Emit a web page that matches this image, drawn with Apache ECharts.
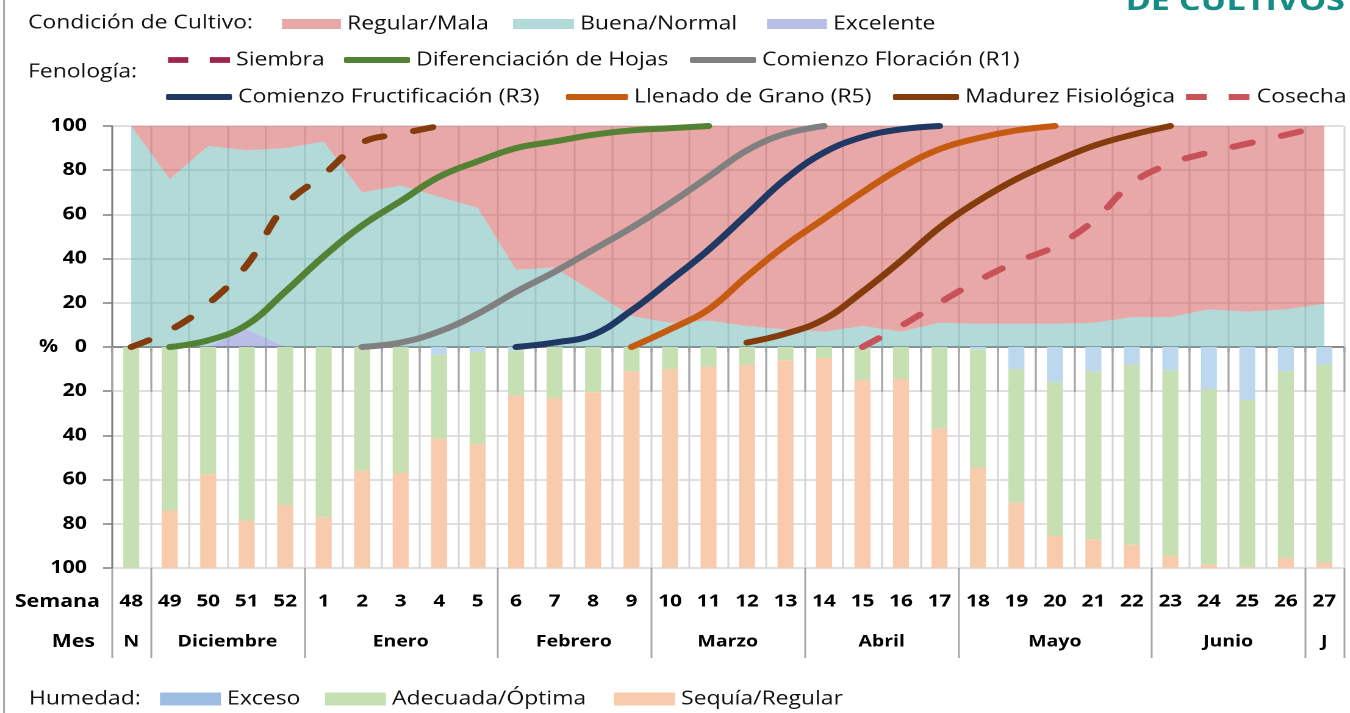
<!DOCTYPE html>
<html><head><meta charset="utf-8">
<script src="https://cdn.jsdelivr.net/npm/echarts@6/dist/echarts.min.js"></script>
<style>
html,body{margin:0;padding:0;background:#fff;overflow:hidden}
#wrap{width:1350px;height:713px;overflow:hidden;position:relative;background:#fff}
#c{position:absolute;left:0;top:0;height:713px;transform-origin:0 0}
</style></head>
<body><div id="wrap"><div id="c"></div></div>
<script>
// ---------- data ----------
const weeks = ['48','49','50','51','52','1','2','3','4','5','6','7','8','9','10','11','12','13','14','15','16','17','18','19','20','21','22','23','24','25','26','27'];
const months = ['N','Diciembre','Enero','Febrero','Marzo','Abril','Mayo','Junio','J'];
const monthSpans = [1,4,5,4,4,4,5,4,1];

// Condición de Cultivo (%)
const excelente = [0,0,0,8,0,0,0,0,0,0,0,0,0,0,0,0,0,0,0,0,0,0,0,0,0,0,0,0,0,0,0,0];
const buenaNormal = [100,76,91,81,90,93,70,73,68,63,35,36,25,14,11,12,9.5,8,7,9.5,7,11,10.5,10.5,10.5,11,13.5,13.5,17,16,17,19.5];
const regularMala = [0,24,9,11,10,7,30,27,32,37,65,64,75,86,89,88,90.5,92,93,90.5,93,89,89.5,89.5,89.5,89,86.5,86.5,83,84,83,80.5];

// Fenología (% acumulado)
const siembra = [0,7.5,19.5,37,64,78,92.5,96.5,100,null,null,null,null,null,null,null,null,null,null,null,null,null,null,null,null,null,null,null,null,null,null,null];
const difHojas = [null,0,3,10,25,41,55,66,77,84,90,93,96,98,99,100,null,null,null,null,null,null,null,null,null,null,null,null,null,null,null,null];
const floracion = [null,null,null,null,null,null,0,2,7,15,25,34,44,54,65,77,89,96.5,100,null,null,null,null,null,null,null,null,null,null,null,null,null];
const fructificacion = [null,null,null,null,null,null,null,null,null,null,0,2,5.5,16.5,30,44,60,76,88,95,98.5,100,null,null,null,null,null,null,null,null,null,null];
const llenado = [null,null,null,null,null,null,null,null,null,null,null,null,null,0,8,17,32,46,58,70,81,89.5,94.5,98,100,null,null,null,null,null,null,null];
const madurez = [null,null,null,null,null,null,null,null,null,null,null,null,null,null,null,null,2,6,12.5,25,39,54,66,76,84,91,96,100,null,null,null,null];
const cosecha = [null,null,null,null,null,null,null,null,null,null,null,null,null,null,null,null,null,null,null,0,9.5,20,30,38.5,45.5,57,74,83,88,92,96,100];

// Humedad (%)
const exceso = [0,0,0,0,0,0,0,0,3.5,2,1.5,0,0,0,0,0,0,0,0,0,0,0,1,10,16,11,8,10.5,19,24,11,8];
const adecuada = [100,74,57.5,78.5,71.5,77,56,57,38,42,20.5,23,20.5,11,10,9,8,6,5,15,14.5,37,53.5,60.5,69.5,76,81.5,84,79.5,75.5,84.5,89.5];
const sequia = [0,26,42.5,21.5,28.5,23,44,43,58.5,56,78,77,79.5,89,90,91,92,94,95,85,85.5,63,45.5,29.5,14.5,13,10.5,5.5,1.5,0.5,4.5,2.5];

// ---------- layout ----------
const SX = 1.22;               // horizontal stretch of the reference picture
const X = v => v / SX;
const FONT = "'Open Sans', sans-serif";
const el = document.getElementById('c');
el.style.width = (1350 / SX) + 'px';
el.style.transform = 'scaleX(' + SX + ')';

const monthStarts = [];
const monthCenters = [];
(function(){ let s = 0; monthSpans.forEach(n => { monthStarts.push(s); monthCenters.push(s + n / 2); s += n; }); })();

const legText = {fontFamily: FONT, fontSize: 18.8, color: '#111', lineHeight: 24};
function lg(name, x, cy, w, h, icon, color) {
  return {
    show: true, selectedMode: false, padding: 0, left: X(x), top: cy - 12,
    itemWidth: X(w), itemHeight: h, icon: icon,
    data: [{name: name, icon: icon, itemStyle: {color: color, borderWidth: 0}}],
    textStyle: legText
  };
}
const dashIcon = 'path://M0,0h17v6h-17zM35,0h17v6h-17z';

const gridLine = {color: '#d6d6d6', width: 1.5};
const axisGray = {color: '#7f7f7f', width: 1.5};
const labelBold = {fontFamily: FONT, fontWeight: 'bold', color: '#000'};

function phen(name, data, color, dashed) {
  return {
    name: name, type: 'line', xAxisIndex: 0, yAxisIndex: 0, data: data,
    smooth: 0.4, symbol: 'none', clip: false, connectNulls: false, z: 5,
    color: color,
    lineStyle: {color: color, width: 6, cap: 'round', join: 'round', type: dashed ? [16, 25] : 'solid'},
    emphasis: {disabled: true}
  };
}
function area(name, data, color) {
  return {
    name: name, type: 'line', xAxisIndex: 0, yAxisIndex: 0, stack: 'cond', data: data,
    symbol: 'none', smooth: false, z: 2, color: color,
    lineStyle: {width: 0}, areaStyle: {color: color, opacity: 0.5},
    emphasis: {disabled: true}
  };
}
function bar(name, data, color) {
  return {
    name: name, type: 'bar', xAxisIndex: 1, yAxisIndex: 1, stack: 'hum', data: data,
    barWidth: X(16), itemStyle: {color: color}, emphasis: {disabled: true}
  };
}

const chart = echarts.init(el, null, {devicePixelRatio: 2, renderer: 'canvas'});
chart.setOption({
  animation: false,
  backgroundColor: '#fff',
  textStyle: {fontFamily: FONT},
  grid: [
    {left: X(112), right: X(7), top: 126, height: 221, outerBoundsMode: 'none', containLabel: false},
    {left: X(112), right: X(7), top: 347, height: 221, outerBoundsMode: 'none', containLabel: false}
  ],
  xAxis: [
    {type: 'category', gridIndex: 0, data: weeks, boundaryGap: true, position: 'bottom',
      axisLine: {show: true, lineStyle: axisGray},
      axisTick: {show: true, interval: 0, length: 5, lineStyle: axisGray},
      axisLabel: {show: false},
      splitLine: {show: true, interval: 0, lineStyle: gridLine}},
    {type: 'category', gridIndex: 1, data: weeks, boundaryGap: true, position: 'bottom',
      axisLine: {show: true, lineStyle: axisGray},
      axisTick: {show: true, interval: 0, length: 45, lineStyle: {color: '#a6a6a6', width: 1.5}},
      axisLabel: Object.assign({interval: 0, margin: 25, fontSize: 17}, labelBold),
      splitLine: {show: true, interval: 0, lineStyle: gridLine}},
    {type: 'category', gridIndex: 1, data: weeks, boundaryGap: true, position: 'bottom',
      axisLine: {show: false},
      axisTick: {show: true, length: 90, lineStyle: {color: '#a6a6a6', width: 1.5},
        interval: function (i) { return monthStarts.indexOf(i) >= 0; }},
      axisLabel: {show: false}, splitLine: {show: false}},
    {type: 'value', gridIndex: 1, min: 0, max: weeks.length, interval: 0.5, position: 'bottom',
      axisLine: {show: false}, axisTick: {show: false}, splitLine: {show: false},
      axisLabel: Object.assign({margin: 66, fontSize: 16, showMinLabel: true, showMaxLabel: true,
        formatter: function (v) {
          for (let i = 0; i < monthCenters.length; i++) if (Math.abs(monthCenters[i] - v) < 1e-6) return months[i];
          return '';
        }}, labelBold)}
  ],
  yAxis: [
    {type: 'value', gridIndex: 0, min: 0, max: 100, interval: 20,
      axisLine: {show: true, lineStyle: axisGray},
      axisTick: {show: true, length: X(9), lineStyle: axisGray},
      axisLabel: Object.assign({margin: X(25), fontSize: 17.5,
        formatter: function (v) { return v === 0 ? '%   0' : String(v); }}, labelBold),
      splitLine: {show: true, lineStyle: gridLine}},
    {type: 'value', gridIndex: 1, min: 0, max: 100, interval: 20, inverse: true,
      axisLine: {show: true, lineStyle: axisGray},
      axisTick: {show: true, length: X(9), lineStyle: axisGray},
      axisLabel: Object.assign({margin: X(25), fontSize: 17.5,
        formatter: function (v) { return v === 0 ? '' : String(v); }}, labelBold),
      splitLine: {show: true, lineStyle: gridLine}}
  ],
  legend: [
    lg('Regular/Mala', 282, 24, 59, 10, 'rect', '#e8a8a8'),
    lg('Buena/Normal', 513, 24, 61, 10, 'rect', '#b2dad8'),
    lg('Excelente', 767, 24, 60, 10, 'rect', '#b8bee6'),
    lg('Siembra', 168, 60, 62, 6, dashIcon, '#9e2449'),
    lg('Diferenciación de Hojas', 344, 60, 66, 6, 'roundRect', '#548235'),
    lg('Comienzo Floración (R1)', 690, 60, 66, 6, 'roundRect', '#7f7f7f'),
    lg('Comienzo Fructificación (R3)', 166, 97, 66, 6, 'roundRect', '#1f3864'),
    lg('Llenado de Grano (R5)', 566, 97, 62, 6, 'roundRect', '#c55a11'),
    lg('Madurez Fisiológica', 893, 97, 66, 6, 'roundRect', '#843c0c'),
    lg('Cosecha', 1186, 97, 66, 6, dashIcon, '#c8515a'),
    lg('Exceso', 160, 699, 61, 13, 'rect', '#9dbde2'),
    lg('Adecuada/Óptima', 325, 699, 61, 13, 'rect', '#c6e0b4'),
    lg('Sequía/Regular', 614, 699, 61, 13, 'rect', '#f8cbad')
  ],
  graphic: [
    {type: 'line', shape: {x1: X(4), y1: 0, x2: X(4), y2: 713}, style: {stroke: '#a6a6a6', lineWidth: 1.5}, silent: true},
    {type: 'text', x: X(1345), y: 2, silent: true,
      style: {text: 'DE CULTIVOS', font: 'bold 28px ' + FONT, fill: '#168c86', align: 'right', verticalAlign: 'middle'}},
    {type: 'text', x: X(28), y: 23, silent: true,
      style: {text: 'Condición de Cultivo:', font: '18.8px ' + FONT, fill: '#111', align: 'left', verticalAlign: 'middle'}},
    {type: 'text', x: X(28), y: 72, silent: true,
      style: {text: 'Fenología:', font: '18.8px ' + FONT, fill: '#111', align: 'left', verticalAlign: 'middle'}},
    {type: 'text', x: X(29), y: 699, silent: true,
      style: {text: 'Humedad:', font: '18.8px ' + FONT, fill: '#111', align: 'left', verticalAlign: 'middle'}},
    {type: 'text', x: X(100), y: 602, silent: true,
      style: {text: 'Semana', font: 'bold 17.5px ' + FONT, fill: '#000', align: 'right', verticalAlign: 'middle'}},
    {type: 'text', x: X(95), y: 642, silent: true,
      style: {text: 'Mes', font: 'bold 17.5px ' + FONT, fill: '#000', align: 'right', verticalAlign: 'middle'}}
  ],
  series: [
    area('Excelente', excelente, '#717dcd'),
    area('Buena/Normal', buenaNormal, '#65b5b1'),
    area('Regular/Mala', regularMala, '#d15151'),
    phen('Siembra', siembra, '#843c0c', true),
    phen('Diferenciación de Hojas', difHojas, '#548235', false),
    phen('Comienzo Floración (R1)', floracion, '#808080', false),
    phen('Comienzo Fructificación (R3)', fructificacion, '#1f3864', false),
    phen('Llenado de Grano (R5)', llenado, '#c55a11', false),
    phen('Madurez Fisiológica', madurez, '#843c0c', false),
    phen('Cosecha', cosecha, '#c8515a', true),
    bar('Exceso', exceso, '#bdd7ee'),
    bar('Adecuada/Óptima', adecuada, '#c6e0b4'),
    bar('Sequía/Regular', sequia, '#f8cbad')
  ]
});
</script>
</body></html>
